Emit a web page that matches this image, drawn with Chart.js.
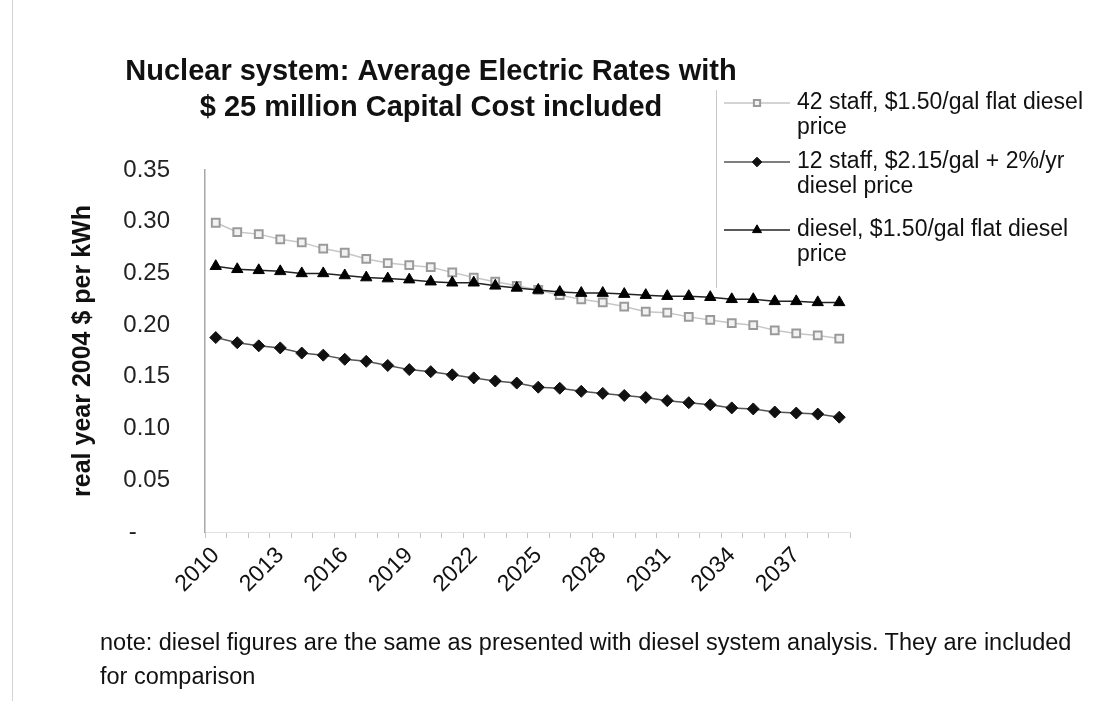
<!DOCTYPE html>
<html><head><meta charset="utf-8">
<script src="https://cdn.jsdelivr.net/npm/chart.js@4.4.0/dist/chart.umd.min.js"></script>
<style>
html,body{margin:0;padding:0;background:#fff;}
#wrap{position:relative;width:1109px;height:701px;overflow:hidden;background:#fff;}
#edge{position:absolute;left:12px;top:0;width:1px;height:701px;background:#d4d4d4;}
#note{position:absolute;left:100px;top:625px;font:23.5px "Liberation Sans",Arial,sans-serif;line-height:34px;color:#111;white-space:nowrap;}
</style></head><body>
<div id="wrap"><canvas id="c" width="1109" height="701"></canvas><div id="edge"></div>
<div id="note">note: diesel figures are the same as presented with diesel system analysis. They are included<br>for comparison</div></div>
<script>
const years = ['2010','2011','2012','2013','2014','2015','2016','2017','2018','2019',
  '2020','2021','2022','2023','2024','2025','2026','2027','2028','2029',
  '2030','2031','2032','2033','2034','2035','2036','2037','2038','2039'];
const shownYearLabels = ['2010','2013','2016','2019','2022','2025','2028','2031','2034','2037'];
const staff42 = [0.299,0.290,0.288,0.283,0.280,0.274,0.270,0.264,0.260,0.258,
  0.256,0.251,0.246,0.242,0.238,0.234,0.229,0.225,0.222,0.218,
  0.213,0.212,0.208,0.205,0.202,0.200,0.195,0.192,0.190,0.187];
const staff12 = [0.188,0.183,0.180,0.178,0.173,0.171,0.167,0.165,0.161,0.157,
  0.155,0.152,0.149,0.146,0.144,0.140,0.139,0.136,0.134,0.132,
  0.130,0.127,0.125,0.123,0.120,0.119,0.116,0.115,0.114,0.111];
const dieselFlat = [0.257,0.254,0.253,0.252,0.250,0.250,0.248,0.246,0.245,0.244,
  0.242,0.241,0.241,0.238,0.236,0.234,0.232,0.231,0.231,0.230,
  0.229,0.228,0.228,0.227,0.225,0.225,0.223,0.223,0.222,0.222];
const legendLines = [
  ['42 staff, $1.50/gal flat diesel','price'],
  ['12 staff, $2.15/gal + 2%/yr','diesel price'],
  ['diesel, $1.50/gal flat diesel','price']
];
const yTicks = [0,0.05,0.10,0.15,0.20,0.25,0.30,0.35];
const titleLines = ['Nuclear system: Average Electric Rates with','$ 25 million Capital Cost included'];
const yAxisTitle = 'real year 2004 $ per kWh';

const FAM = '"Liberation Sans", Arial, sans-serif';

const sideLegend = {
  id: 'sideLegend',
  afterDraw(chart) {
    const ctx = chart.ctx;
    ctx.save();
    ctx.strokeStyle = '#c8c8c8'; ctx.lineWidth = 1;
    ctx.beginPath(); ctx.moveTo(716.5, 90); ctx.lineTo(716.5, 288); ctx.stroke();
    const rowY = [103, 162, 230];
    const lineGap = 25;
    chart.data.datasets.forEach((ds, i) => {
      const y0 = rowY[i];
      ctx.strokeStyle = ds.borderColor; ctx.lineWidth = ds.borderWidth;
      ctx.beginPath(); ctx.moveTo(724, y0); ctx.lineTo(790, y0); ctx.stroke();
      ctx.fillStyle = ds.pointBackgroundColor; ctx.strokeStyle = ds.pointBorderColor;
      ctx.lineWidth = ds.pointBorderWidth;
      Chart.helpers.drawPoint(ctx, {pointStyle: ds.pointStyle, radius: ds.pointRadius * 0.8, rotation: 0, borderWidth: ds.pointBorderWidth}, 757, y0);
      ctx.fillStyle = '#111';
      ctx.font = '23px ' + FAM;
      ctx.textBaseline = 'middle'; ctx.textAlign = 'left';
      legendLines[i].forEach((t, k) => ctx.fillText(t, 797, y0 + k * lineGap));
    });
    ctx.restore();
  }
};

new Chart(document.getElementById('c'), {
  type: 'line',
  data: {
    labels: years,
    datasets: [
      {label: legendLines[0].join(' '), data: staff42, borderColor: '#c6c6c6', borderWidth: 1.5,
       pointStyle: 'rect', pointRadius: 5.5, pointBorderColor: '#9a9a9a', pointBackgroundColor: '#f2f2f2', pointBorderWidth: 2, order: 2},
      {label: legendLines[1].join(' '), data: staff12, borderColor: '#555', borderWidth: 1.5,
       pointStyle: 'rectRot', pointRadius: 6, pointBorderColor: '#111', pointBackgroundColor: '#111', pointBorderWidth: 1, order: 1},
      {label: legendLines[2].join(' '), data: dieselFlat, borderColor: '#222', borderWidth: 1.5,
       pointStyle: 'triangle', pointRadius: 6.5, pointBorderColor: '#000', pointBackgroundColor: '#000', pointBorderWidth: 1, order: 0}
    ]
  },
  options: {
    responsive: false, animation: false, events: [],
    layout: {padding: {left: 12, right: 259, top: 0, bottom: 0}},
    plugins: {
      legend: {display: false}, tooltip: {enabled: false},
      title: {display: true, text: titleLines, color: '#111',
        font: {family: FAM, size: 29, weight: 'bold', lineHeight: 36/29},
        padding: {top: 54, bottom: 44}}
    },
    scales: {
      x: {
        type: 'category', offset: true,
        grid: {display: true, drawOnChartArea: false, drawTicks: true, tickLength: 6, color: '#c4c4c4', offset: true},
        border: {display: true, color: '#e2e2e2'},
        ticks: {autoSkip: false, maxRotation: 45, minRotation: 45, color: '#111', padding: 4,
          font: {family: FAM, size: 23},
          callback: function(v, i) { const l = this.getLabelForValue(v); return shownYearLabels.includes(l) ? l : ''; }},
        afterFit(s) { s.height = 169; }
      },
      y: {
        min: 0, max: 0.35,
        afterBuildTicks(s) { s.ticks = yTicks.map(v => ({value: v})); },
        grid: {display: false},
        border: {display: true, color: '#a8a8a8', width: 1.5},
        ticks: {color: '#222', padding: 27, font: {family: FAM, size: 24},
          callback: v => v === 0 ? '-     ' : v.toFixed(2)},
        title: {display: true, text: yAxisTitle, color: '#111', font: {family: FAM, size: 25, weight: 'bold'}, padding: {top: 56, bottom: 0}},
        afterFit(s) { s.width = 193; }
      }
    }
  },
  plugins: [sideLegend]
});
</script>
</body></html>
